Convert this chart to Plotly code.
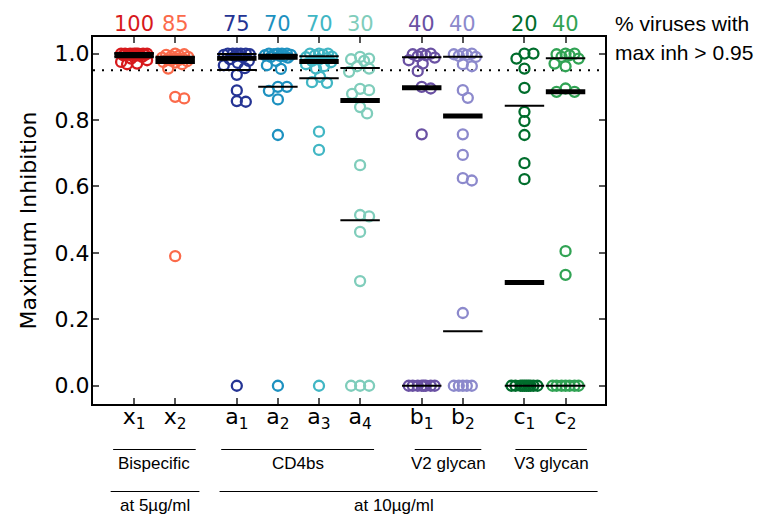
import numpy as np
import plotly.graph_objects as go

# ---------------- data ----------------
categories = ["x<sub>1</sub>", "x<sub>2</sub>", "a<sub>1</sub>", "a<sub>2</sub>", "a<sub>3</sub>",
              "a<sub>4</sub>", "b<sub>1</sub>", "b<sub>2</sub>", "c<sub>1</sub>", "c<sub>2</sub>"]
pct_labels = ["100", "85", "75", "70", "70", "30", "40", "40", "20", "40"]

x1 = [1.0, 1.0, 1.0, 1.0, 1.0, 1.0, 1.0, 1.0, 0.999, 0.998, 0.997, 0.996, 0.995, 0.993,
      0.99, 0.985, 0.98, 0.975, 0.97, 0.968]
x2 = [1.0, 0.998, 0.996, 0.994, 0.992, 0.99, 0.988, 0.986, 0.985, 0.983, 0.981, 0.979,
      0.977, 0.975, 0.973, 0.968, 0.955, 0.87, 0.865, 0.39]
a1 = [1.0, 1.0, 1.0, 1.0, 1.0, 0.998, 0.996, 0.994, 0.992, 0.989, 0.983, 0.978, 0.972,
      0.965, 0.956, 0.936, 0.889, 0.857, 0.855, 0.0]
a2 = [1.0, 1.0, 1.0, 1.0, 0.998, 0.996, 0.995, 0.993, 0.992, 0.99, 0.988, 0.978, 0.965,
      0.954, 0.9, 0.9, 0.888, 0.862, 0.755, 0.0]
a3 = [1.0, 1.0, 1.0, 0.997, 0.995, 0.991, 0.989, 0.986, 0.982, 0.978, 0.974, 0.968, 0.962,
      0.955, 0.93, 0.914, 0.912, 0.765, 0.71, 0.0]
a4 = [0.99, 0.985, 0.983, 0.978, 0.962, 0.955, 0.945, 0.894, 0.89, 0.879, 0.839, 0.82,
      0.664, 0.514, 0.51, 0.463, 0.315, 0.0, 0.0, 0.0]
b1 = [1.0, 1.0, 0.998, 0.995, 0.992, 0.988, 0.98, 0.97, 0.947, 0.9, 0.895, 0.757,
      0.0, 0.0, 0.0, 0.0, 0.0, 0.0, 0.0, 0.0]
b2 = [1.0, 1.0, 0.998, 0.996, 0.993, 0.99, 0.968, 0.962, 0.89, 0.867, 0.757, 0.695,
      0.625, 0.618, 0.219, 0.0, 0.0, 0.0, 0.0, 0.0]
c1 = [1.0, 1.0, 0.985, 0.955, 0.897, 0.825, 0.797, 0.755, 0.67, 0.622,
      0.0, 0.0, 0.0, 0.0, 0.0, 0.0, 0.0, 0.0, 0.0, 0.0]
c2 = [1.0, 1.0, 0.998, 0.995, 0.99, 0.985, 0.97, 0.962, 0.895, 0.885, 0.885, 0.405, 0.334,
      0.0, 0.0, 0.0, 0.0, 0.0, 0.0, 0.0]
series = [x1, x2, a1, a2, a3, a4, b1, b2, c1, c2]

group_names = ["Bispecific", "CD4bs", "V2 glycan", "V3 glycan"]
conc_names = ["at 5\u00b5g/ml", "at 10\u00b5g/ml"]
threshold = 0.95

# ---------------- layout constants ----------------
positions = [1, 2, 3.5, 4.5, 5.5, 6.5, 8, 9, 10.5, 11.5]
colors = ["#d7191c", "#fb6a4a", "#253494", "#1d91c0", "#41b6c4", "#7fcdbb",
          "#6a51a3", "#8c89cc", "#006d2c", "#31a354"]
group_spans = [(0.49, 2.5), (3.12, 6.84), (7.83, 9.45), (10.28, 12.02)]
conc_spans = [(0.43, 2.59), (3.08, 12.28)]
conc_text_x = [1.5, 7.33]

XR = [0, 12.46]
YR = [-0.055, 1.05]
# page body has an 8px margin: figure is placed at (8, 8) in the window
ML, MR, MT, MB = 85, 170, 29, 110
W, H = 767, 506
pw = W - ML - MR
ph = H - MT - MB
px_x = pw / (XR[1] - XR[0])
px_y = ph / (YR[1] - YR[0])
PLOT_BOTTOM_WIN = 404   # window pixel of the plot bottom


def py2paper(py):
    return (PLOT_BOTTOM_WIN - py) / ph


def swarm(vals, d=9.0, maxw=13):
    cands = [0]
    for k in range(1, maxw + 1):
        cands += [k, -k]
    placed = []
    offs = []
    for v in vals:
        yp = v * px_y
        best_c, best_s = 0, -1
        chosen = None
        for c in cands:
            md = min([np.hypot(c - ox, yp - oy) for ox, oy in placed], default=1e9)
            if md >= d:
                chosen = c
                break
            if md > best_s:
                best_s, best_c = md, c
        if chosen is None:
            chosen = best_c
        placed.append((chosen, yp))
        offs.append(chosen / px_x)
    return np.array(offs)


fig = go.Figure()

# threshold dotted line
fig.add_shape(type="line", xref="paper", x0=0, x1=1, yref="y", y0=threshold, y1=threshold,
              line=dict(color="black", width=2, dash="2px,7px"), layer="below")

for pos, vals, col in zip(positions, series, colors):
    offs = swarm(vals)
    fig.add_trace(go.Scatter(
        x=pos + offs, y=vals, mode="markers",
        marker=dict(symbol="circle-open", size=10, color=col, line=dict(width=2.3, color=col)),
        showlegend=False, hoverinfo="y"))

# median (thick) and quartiles (thin)
hw = 0.48
for pos, vals in zip(positions, series):
    q1, med, q3 = np.percentile(vals, [25, 50, 75])
    for val, w in [(q1, 2), (q3, 2), (med, 5)]:
        fig.add_trace(go.Scatter(x=[pos - hw, pos + hw], y=[val, val], mode="lines",
                                 line=dict(color="black", width=w), showlegend=False,
                                 hoverinfo="skip"))

# percentage labels on top
for pos, lab, col in zip(positions, pct_labels, colors):
    fig.add_annotation(x=pos, xref="x", y=py2paper(24), yref="paper",
                       text=lab, showarrow=False, xanchor="center", yanchor="middle",
                       font=dict(family="DejaVu Sans", size=21, color=col))

fig.add_annotation(x=(613 - 93) / pw, xref="paper", y=py2paper(23), yref="paper",
                   text="% viruses with", showarrow=False, xanchor="left", yanchor="middle",
                   font=dict(family="Liberation Sans", size=21, color="black"))
fig.add_annotation(x=(613 - 93) / pw, xref="paper", y=py2paper(52.5), yref="paper",
                   text="max inh &gt; 0.95", showarrow=False, xanchor="left", yanchor="middle",
                   font=dict(family="Liberation Sans", size=21, color="black"))

# group labels below
for (a, b), name in zip(group_spans, group_names):
    fig.add_shape(type="line", xref="x", x0=a, x1=b, yref="paper", y0=py2paper(449.5),
                  y1=py2paper(449.5), line=dict(color="black", width=1))
    fig.add_annotation(x=(a + b) / 2, xref="x", y=py2paper(463), yref="paper", text=name,
                       showarrow=False, xanchor="center", yanchor="middle",
                       font=dict(family="Liberation Sans", size=17, color="black"))

for (a, b), name, tx in zip(conc_spans, conc_names, conc_text_x):
    fig.add_shape(type="line", xref="x", x0=a, x1=b, yref="paper", y0=py2paper(491.5),
                  y1=py2paper(491.5), line=dict(color="black", width=1))
    fig.add_annotation(x=tx, xref="x", y=py2paper(505), yref="paper", text=name,
                       showarrow=False, xanchor="center", yanchor="middle",
                       font=dict(family="Liberation Sans", size=17, color="black"))

fig.update_layout(
    width=W, height=H,
    margin=dict(l=ML, r=MR, t=MT, b=MB),
    plot_bgcolor="white", paper_bgcolor="white",
    showlegend=False,
    xaxis=dict(range=XR, tickvals=positions, ticktext=categories, ticks="inside",
               ticklen=6, tickwidth=1.5, tickcolor="#555", showline=True, linecolor="black",
               linewidth=2, mirror="ticks", showgrid=False, zeroline=False,
               ticklabelstandoff=-8,
               tickfont=dict(family="DejaVu Sans", size=22, color="black")),
    yaxis=dict(range=YR, tickvals=[0, 0.2, 0.4, 0.6, 0.8, 1.0], tickformat=".1f",
               ticks="inside", ticklen=6, tickwidth=1.5, tickcolor="#555", showline=True,
               linecolor="black", linewidth=2, mirror="ticks", showgrid=False,
               zeroline=False, ticklabelstandoff=-3,
               tickfont=dict(family="DejaVu Sans", size=22, color="black"),
               title=dict(text="Maximum Inhibition", standoff=12,
                          font=dict(family="DejaVu Sans", size=22, color="black"))),
)

fig.write_html("out.html")
